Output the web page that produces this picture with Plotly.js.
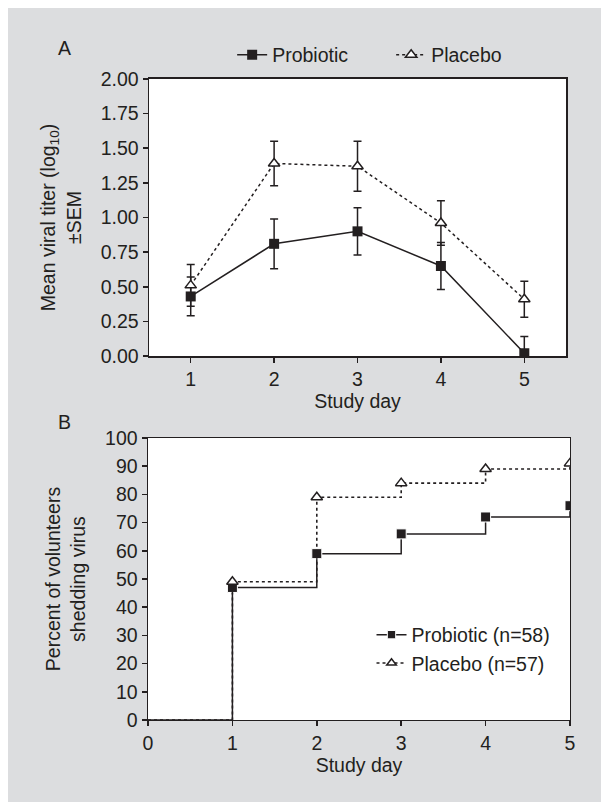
<!DOCTYPE html>
<html>
<head>
<meta charset="utf-8">
<script src="https://cdn.plot.ly/plotly-3.0.1.min.js"></script>
<style>
html,body{margin:0;padding:0;background:#ffffff;width:601px;height:803px;overflow:hidden;}
#chart{position:absolute;left:8px;top:8px;width:593px;height:794px;}
</style>
</head>
<body>
<div id="chart"></div>
<script>
// Panel A: mean viral titer (log10) ± SEM by study day
var days = [1, 2, 3, 4, 5];
var probioticTiter = [0.43, 0.81, 0.90, 0.65, 0.02];
var probioticSEM   = [0.14, 0.18, 0.17, 0.17, 0.12];
var placeboTiter   = [0.51, 1.39, 1.37, 0.96, 0.41];
var placeboSEM     = [0.15, 0.16, 0.18, 0.16, 0.13];

// Panel B: percent of volunteers shedding virus (cumulative)
var shedDays      = [0, 1, 2, 3, 4, 5];
var probioticShed = [0, 47, 59, 66, 72, 76];
var placeboShed   = [0, 49, 79, 84, 89, 91];
var shedMarkerSize = [0, 10, 10, 10, 10, 10];

var ink = '#231f20';
var fontFam = '"Liberation Sans", Arial, Helvetica, sans-serif';
var fs = 19.5;

var traces = [
  {
    x: days, y: probioticTiter, name: 'Probiotic', mode: 'lines+markers',
    xaxis: 'x', yaxis: 'y', legend: 'legend',
    line: {color: ink, width: 1.5},
    marker: {symbol: 'square', size: 10, color: ink, opacity: 1},
    error_y: {type: 'data', array: probioticSEM, visible: true, color: ink, thickness: 1.5, width: 4}
  },
  {
    x: days, y: placeboTiter, name: 'Placebo', mode: 'lines+markers',
    xaxis: 'x', yaxis: 'y', legend: 'legend',
    line: {color: ink, width: 1.5, dash: 'dot'},
    marker: {symbol: 'triangle-up', size: 10, color: '#ffffff', opacity: 1, line: {color: ink, width: 1.5}},
    error_y: {type: 'data', array: placeboSEM, visible: true, color: ink, thickness: 1.5, width: 4}
  },
  {
    x: shedDays, y: probioticShed, name: 'Probiotic (n=58)', mode: 'lines+markers',
    xaxis: 'x2', yaxis: 'y2', legend: 'legend2',
    line: {color: ink, width: 1.5, shape: 'hv'},
    marker: {symbol: 'square', size: shedMarkerSize, color: ink, opacity: 1}
  },
  {
    x: shedDays, y: placeboShed, name: 'Placebo (n=57)', mode: 'lines+markers',
    xaxis: 'x2', yaxis: 'y2', legend: 'legend2',
    line: {color: ink, width: 1.6, shape: 'hv', dash: 'dot'},
    marker: {symbol: 'triangle-up', size: shedMarkerSize, color: '#ffffff', opacity: 1, line: {color: ink, width: 1.5}}
  }
];

var axisCommon = {
  showline: true, mirror: true, linecolor: ink, linewidth: 1.5,
  ticks: 'outside', ticklen: 5, tickwidth: 1.5, tickcolor: ink,
  showgrid: false, zeroline: false,
  tickfont: {family: fontFam, size: fs, color: ink}
};

function ax(extra) { return Object.assign({}, axisCommon, extra); }

var layout = {
  width: 593, height: 794,
  margin: {l: 0, r: 0, t: 0, b: 0},
  paper_bgcolor: '#dcdddf',
  plot_bgcolor: '#ffffff',
  font: {family: fontFam, size: fs, color: ink},
  showlegend: true,
  xaxis: ax({
    domain: [0.2378, 0.9410], anchor: 'y', range: [0.5, 5.5],
    tickvals: days, ticktext: ['1', '2', '3', '4', '5'],
    title: {text: 'Study day', font: {family: fontFam, size: fs, color: ink}, standoff: 4}
  }),
  yaxis: ax({
    domain: [0.5617, 0.9106], anchor: 'x', range: [0, 2],
    tickvals: [0, 0.25, 0.5, 0.75, 1, 1.25, 1.5, 1.75, 2],
    ticktext: ['0.00', '0.25', '0.50', '0.75', '1.00', '1.25', '1.50', '1.75', '2.00'],
    title: {text: 'Mean viral titer (log<sub>10</sub>)<br>±SEM', font: {family: fontFam, size: fs, color: ink}, standoff: 14}
  }),
  xaxis2: ax({
    domain: [0.2361, 0.9477], anchor: 'y2', range: [0, 5],
    tickvals: [0, 1, 2, 3, 4, 5],
    title: {text: 'Study day', font: {family: fontFam, size: fs, color: ink}, standoff: 4}
  }),
  yaxis2: ax({
    domain: [0.1033, 0.4584], anchor: 'x2', range: [0, 100],
    tickvals: [0, 10, 20, 30, 40, 50, 60, 70, 80, 90, 100],
    title: {text: 'Percent of volunteers<br>shedding virus', font: {family: fontFam, size: fs, color: ink}, standoff: 14}
  }),
  legend: {
    orientation: 'h', x: 0.378, xanchor: 'left', y: 0.9408, yanchor: 'middle',
    bgcolor: 'rgba(0,0,0,0)', font: {family: fontFam, size: fs, color: ink},
    entrywidth: 114, entrywidthmode: 'pixels'
  },
  legend2: {
    orientation: 'v', x: 0.613, xanchor: 'left', y: 0.1927, yanchor: 'middle',
    bgcolor: 'rgba(0,0,0,0)', font: {family: fontFam, size: fs, color: ink}
  },
  annotations: [
    {text: 'A', xref: 'paper', yref: 'paper', x: 57 / 593, y: 1 - 40 / 794, xanchor: 'center', yanchor: 'middle', showarrow: false, font: {family: fontFam, size: fs, color: ink}},
    {text: 'B', xref: 'paper', yref: 'paper', x: 57 / 593, y: 1 - 414 / 794, xanchor: 'center', yanchor: 'middle', showarrow: false, font: {family: fontFam, size: fs, color: ink}}
  ]
};

Plotly.newPlot('chart', traces, layout, {displayModeBar: false, staticPlot: true});
</script>
</body>
</html>
